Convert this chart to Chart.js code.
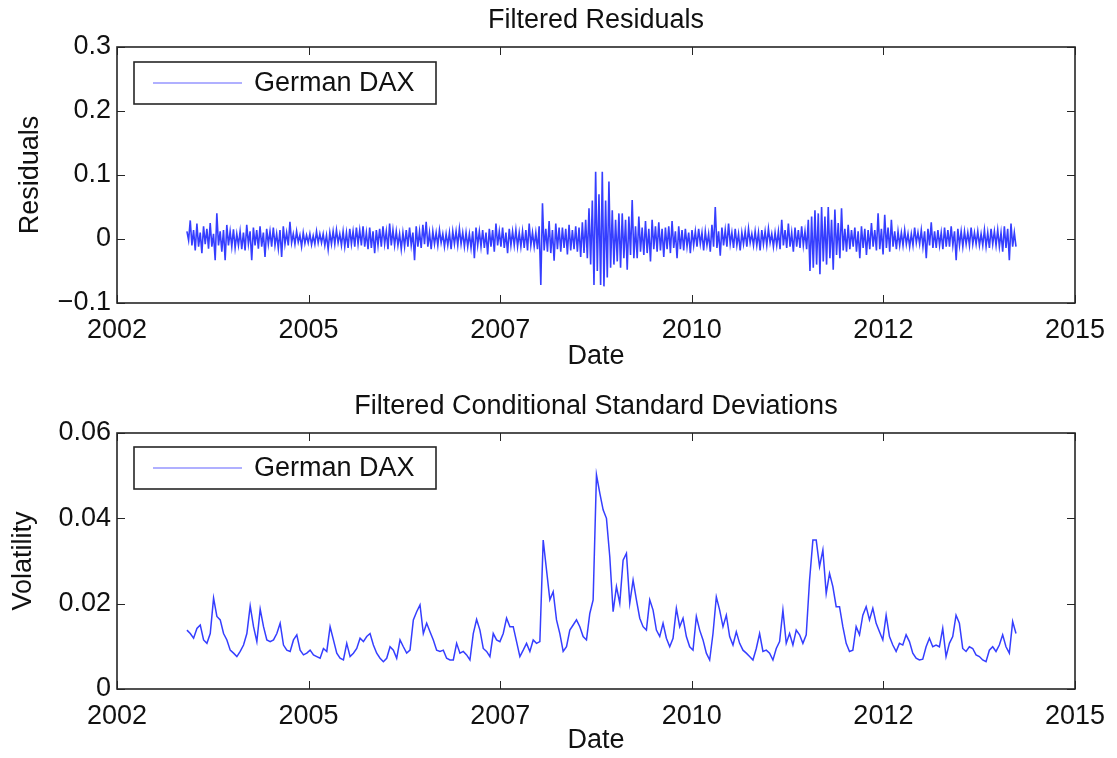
<!DOCTYPE html>
<html>
<head>
<meta charset="utf-8">
<title>German DAX - filtered residuals and volatility</title>
<script src="https://cdn.jsdelivr.net/npm/chart.js@4.4.1/dist/chart.umd.min.js"></script>
<style>
  html, body { margin: 0; padding: 0; background: #fff; }
  canvas { position: absolute; left: 0; }
  #residChart { top: 0; }
  #volChart { top: 379px; }
</style>
</head>
<body>
<canvas id="residChart" width="1117" height="379"></canvas>
<canvas id="volChart" width="1117" height="379"></canvas>
<script>
// ---- data ----
var seriesLabel = 'German DAX';
var xTickLabels = ['2002', '2005', '2007', '2010', '2012', '2015'];
// first / last trading day, in date-axis tick units (0 = first tick, 5 = last)
var firstObs = 0.365;
var lastObs = 4.692;

var residTicks = [-0.1, 0, 0.1, 0.2, 0.3];
var volTicks = [0, 0.02, 0.04, 0.06];

// up/down swings of the residual band, left to right
var residuals = [
    // 2003 - 2005
    0.012, -0.002, 0.029, -0.010, 0.014, -0.018, 0.024, -0.012, 0.010, -0.022,
    0.020, -0.008, 0.016, -0.015, 0.025, -0.012, 0.008, -0.033, 0.040, -0.010,
    0.012, -0.020, 0.014, -0.033, 0.022, -0.010, 0.012, -0.012, 0.015, -0.014,
    0.008, -0.010, 0.012, -0.016, 0.010, -0.018, 0.022, -0.008, 0.012, -0.033,
    0.018, -0.010, 0.014, -0.015, 0.020, -0.012, 0.010, -0.028, 0.016, -0.008,
    0.012, -0.012, 0.018, -0.010, 0.008, -0.015, 0.014, -0.028, 0.020, -0.008,
    0.010, -0.010, 0.027, -0.006, 0.008, -0.008, 0.012, -0.005, 0.006, -0.012,
    0.010, -0.007, 0.006, -0.006, 0.008, -0.009, 0.005, -0.008, 0.012, -0.006,
    0.008, -0.006, 0.008, -0.010, 0.006, -0.016, 0.010, -0.008, 0.012, -0.008,
    0.014, -0.006, 0.008, -0.010, 0.012, -0.012, 0.010, -0.014, 0.016, -0.008,
    0.012, -0.012, 0.018, -0.008, 0.014, -0.010, 0.020, -0.012, 0.010, -0.016,
    0.018, -0.014, 0.012, -0.022, 0.014, -0.010, 0.016, -0.012, 0.020, -0.008,
    0.012, -0.016, 0.024, -0.010, 0.014, -0.010,
    // 2006 - 2008
    0.012, -0.010, 0.008, -0.016, 0.010, -0.012, 0.014, -0.012, 0.018, -0.010,
    0.010, -0.033, 0.020, -0.012, 0.012, -0.014, 0.022, -0.008, 0.027, -0.012,
    0.010, -0.016, 0.012, -0.008, 0.010, -0.010, 0.014, -0.006, 0.008, -0.012,
    0.008, -0.010, 0.010, -0.016, 0.012, -0.008, 0.012, -0.010, 0.016, -0.008,
    0.010, -0.012, 0.010, -0.012, 0.008, -0.014, 0.012, -0.030, 0.018, -0.010,
    0.012, -0.012, 0.014, -0.014, 0.010, -0.024, 0.016, -0.012, 0.014, -0.020,
    0.024, -0.010, 0.012, -0.012, 0.018, -0.014, 0.010, -0.022, 0.016, -0.010,
    0.012, -0.010, 0.014, -0.012, 0.010, -0.012, 0.012, -0.014, 0.014, -0.018,
    0.024, -0.010, 0.010, -0.012, 0.010, -0.016, 0.020, -0.072, 0.056, -0.018,
    0.016, -0.020, 0.028, -0.022, 0.014, -0.034, 0.024, -0.016, 0.018, -0.020,
    0.018, -0.014, 0.016, -0.024, 0.022, -0.018, 0.014, -0.016, 0.020, -0.020,
    0.018, -0.028, 0.026, -0.022, 0.030, -0.030, 0.048, -0.040, 0.060, -0.072,
    0.105, -0.050, 0.070, -0.072,
    // 2008 - 2011
    0.105, -0.074, 0.060, -0.060, 0.090, -0.045, 0.045, -0.040, 0.030, -0.035,
    0.040, -0.045, 0.040, -0.030, 0.030, -0.048, 0.035, -0.025, 0.061, -0.030,
    0.020, -0.030, 0.035, -0.020, 0.018, -0.025, 0.028, -0.022, 0.016, -0.035,
    0.030, -0.016, 0.020, -0.020, 0.026, -0.018, 0.016, -0.028, 0.018, -0.016,
    0.020, -0.022, 0.028, -0.014, 0.012, -0.030, 0.020, -0.016, 0.014, -0.018,
    0.016, -0.012, 0.010, -0.022, 0.014, -0.010, 0.012, -0.012, 0.016, -0.008,
    0.010, -0.018, 0.012, -0.010, 0.008, -0.020, 0.022, -0.012, 0.050, -0.014,
    0.012, -0.026, 0.018, -0.010, 0.014, -0.012, 0.024, -0.008, 0.010, -0.014,
    0.016, -0.010, 0.008, -0.018, 0.010, -0.008, 0.012, -0.012, 0.016, -0.006,
    0.008, -0.010, 0.012, -0.010, 0.010, -0.018, 0.014, -0.008, 0.012, -0.010,
    0.016, -0.006, 0.008, -0.012, 0.010, -0.010, 0.012, -0.016, 0.030, -0.010,
    0.014, -0.014, 0.024, -0.012, 0.010, -0.020, 0.018, -0.012, 0.014, -0.014,
    0.020, -0.010, 0.012, -0.016, 0.030, -0.050, 0.035, -0.045,
    // 2011 - 2014
    0.045, -0.040, 0.040, -0.055, 0.050, -0.035, 0.035, -0.040, 0.050, -0.030,
    0.030, -0.048, 0.046, -0.025, 0.025, -0.030, 0.048, -0.018, 0.016, -0.020,
    0.022, -0.016, 0.014, -0.012, 0.018, -0.020, 0.012, -0.030, 0.020, -0.014,
    0.016, -0.025, 0.014, -0.016, 0.025, -0.012, 0.014, -0.018, 0.040, -0.016,
    0.016, -0.024, 0.038, -0.014, 0.018, -0.020, 0.030, -0.012, 0.012, -0.016,
    0.012, -0.010, 0.010, -0.010, 0.014, -0.008, 0.008, -0.012, 0.008, -0.010,
    0.018, -0.006, 0.010, -0.008, 0.014, -0.012, 0.012, -0.030, 0.016, -0.010,
    0.026, -0.014, 0.012, -0.014, 0.014, -0.010, 0.010, -0.016, 0.018, -0.012,
    0.014, -0.012, 0.020, -0.010, 0.012, -0.033, 0.016, -0.010, 0.012, -0.012,
    0.012, -0.008, 0.010, -0.010, 0.018, -0.008, 0.010, -0.008, 0.012, -0.010,
    0.008, -0.010, 0.014, -0.012, 0.010, -0.014, 0.016, -0.008, 0.012, -0.010,
    0.014, -0.012, 0.010, -0.020, 0.020, -0.014, 0.016, -0.033, 0.024, -0.012,
    0.010, -0.012
];

var volatility = [
    0.0138, 0.0130, 0.0119, 0.0142, 0.0150, 0.0115, 0.0107, 0.0130, 0.0213, 0.0170,
    0.0162, 0.0130, 0.0115, 0.0091, 0.0084, 0.0076, 0.0088, 0.0103, 0.0130, 0.0195,
    0.0146, 0.0111, 0.0187, 0.0146, 0.0115, 0.0111, 0.0115, 0.0130, 0.0154, 0.0103,
    0.0091, 0.0088, 0.0115, 0.0127, 0.0091, 0.0080, 0.0084, 0.0091, 0.0080, 0.0076,
    0.0072, 0.0095, 0.0088, 0.0146, 0.0115, 0.0084, 0.0072, 0.0068, 0.0107, 0.0076,
    0.0084, 0.0095, 0.0119, 0.0111, 0.0123, 0.0130, 0.0103, 0.0084, 0.0072, 0.0064,
    0.0072, 0.0099, 0.0091,
    0.0072, 0.0115, 0.0099, 0.0084, 0.0091, 0.0162, 0.0181, 0.0197, 0.0130, 0.0154,
    0.0134, 0.0115, 0.0091, 0.0088, 0.0091, 0.0072, 0.0068, 0.0068, 0.0107, 0.0084,
    0.0088, 0.0080, 0.0068, 0.0130, 0.0163, 0.0138, 0.0095, 0.0088, 0.0076, 0.0130,
    0.0115, 0.0111, 0.0130, 0.0166, 0.0146, 0.0146, 0.0111, 0.0076, 0.0091, 0.0107,
    0.0088, 0.0115, 0.0107, 0.0111, 0.0349, 0.0279, 0.0209, 0.0228, 0.0162, 0.0130,
    0.0088, 0.0099, 0.0138, 0.0150, 0.0162, 0.0146, 0.0123, 0.0115, 0.0177, 0.0209,
    0.0502, 0.0459,
    0.0420, 0.0400, 0.0310, 0.0181, 0.0240, 0.0201, 0.0302, 0.0318, 0.0201, 0.0255,
    0.0209, 0.0166, 0.0146, 0.0138, 0.0209, 0.0185, 0.0138, 0.0123, 0.0154, 0.0119,
    0.0099, 0.0119, 0.0189, 0.0146, 0.0166, 0.0123, 0.0099, 0.0091, 0.0170, 0.0138,
    0.0115, 0.0084, 0.0068, 0.0130, 0.0216, 0.0185, 0.0146, 0.0173, 0.0123, 0.0103,
    0.0134, 0.0107, 0.0091, 0.0084, 0.0076, 0.0068, 0.0095, 0.0130, 0.0088, 0.0091,
    0.0084, 0.0068, 0.0095, 0.0111, 0.0185, 0.0107, 0.0130, 0.0103, 0.0138, 0.0127,
    0.0107, 0.0127, 0.0255, 0.0349,
    0.0349, 0.0287, 0.0326, 0.0224, 0.0271, 0.0240, 0.0193, 0.0193, 0.0146, 0.0107,
    0.0088, 0.0091, 0.0146, 0.0127, 0.0173, 0.0193, 0.0162, 0.0189, 0.0154, 0.0134,
    0.0115, 0.0173, 0.0123, 0.0103, 0.0088, 0.0107, 0.0103, 0.0127, 0.0111, 0.0084,
    0.0072, 0.0068, 0.0070, 0.0099, 0.0119, 0.0099, 0.0103, 0.0099, 0.0142, 0.0076,
    0.0107, 0.0123, 0.0173, 0.0154, 0.0095, 0.0088, 0.0099, 0.0095, 0.0080, 0.0076,
    0.0068, 0.0064, 0.0091, 0.0099, 0.0088, 0.0103, 0.0127, 0.0099, 0.0084, 0.0158,
    0.0130
];

// ---- drawing ----
var FONT = 'Helvetica, Arial, "Liberation Sans", sans-serif';
var FONT_SIZE = 27;
var LINE_COLOR = 'rgba(25, 35, 255, 0.88)';

function toPoints(values) {
    var step = (lastObs - firstObs) / (values.length - 1);
    return values.map(function (v, i) { return { x: firstObs + i * step, y: v }; });
}

function fmtTick(v, decimals) {
    if (Math.abs(v) < 1e-9) return '0';
    return (v < 0 ? '\u2212' : '') + Math.abs(v).toFixed(decimals);
}

// MATLAB-style frame: box, inward ticks on all sides, boxed legend, title
var matlabFrame = {
    id: 'matlabFrame',
    afterDraw: function (chart, args, opts) {
        var ctx = chart.ctx;
        var a = chart.chartArea;
        var xs = chart.scales.x, ys = chart.scales.y;
        var tl = 8;
        ctx.save();

        ctx.strokeStyle = '#262626';
        ctx.lineWidth = 1;
        ctx.beginPath();
        xs.ticks.forEach(function (t) {
            var px = Math.round(xs.getPixelForValue(t.value)) + 0.5;
            ctx.moveTo(px, a.bottom); ctx.lineTo(px, a.bottom - tl);
            ctx.moveTo(px, a.top); ctx.lineTo(px, a.top + tl);
        });
        ys.ticks.forEach(function (t) {
            var py = Math.round(ys.getPixelForValue(t.value)) + 0.5;
            ctx.moveTo(a.left, py); ctx.lineTo(a.left + tl, py);
            ctx.moveTo(a.right, py); ctx.lineTo(a.right - tl, py);
        });
        ctx.stroke();

        ctx.lineWidth = 1.6;
        ctx.strokeRect(a.left, a.top, a.right - a.left, a.bottom - a.top);

        // legend
        var bx = a.left + 17, by = a.top + opts.legendTop, bw = 302, bh = 42;
        ctx.fillStyle = '#fff';
        ctx.fillRect(bx, by, bw, bh);
        ctx.lineWidth = 1.6;
        ctx.strokeRect(bx, by, bw, bh);
        ctx.strokeStyle = 'rgba(70, 70, 255, 0.85)';
        ctx.lineWidth = 1.2;
        ctx.beginPath();
        ctx.moveTo(bx + 19, by + 21);
        ctx.lineTo(bx + 108, by + 21);
        ctx.stroke();
        ctx.fillStyle = '#111';
        ctx.font = FONT_SIZE + 'px ' + FONT;
        ctx.textAlign = 'left';
        ctx.textBaseline = 'middle';
        ctx.fillText(chart.data.datasets[0].label, bx + 120, by + 22);

        // title
        ctx.textAlign = 'center';
        ctx.fillText(opts.title, (a.left + a.right) / 2, opts.titleY);

        ctx.restore();
    }
};

function makeChart(id, values, yTicks, decimals, cfg) {
    var ctx = document.getElementById(id).getContext('2d');
    return new Chart(ctx, {
        type: 'line',
        data: {
            datasets: [{
                label: seriesLabel,
                data: toPoints(values),
                borderColor: LINE_COLOR,
                backgroundColor: 'transparent',
                borderWidth: cfg.lineWidth,
                pointRadius: 0,
                tension: 0
            }]
        },
        options: {
            responsive: false,
            devicePixelRatio: 1,
            animation: false,
            layout: { padding: { left: 0, right: 42, top: cfg.top, bottom: 0 } },
            plugins: {
                legend: { display: false },
                title: { display: false },
                tooltip: { enabled: false },
                matlabFrame: { title: cfg.title, titleY: cfg.titleY, legendTop: cfg.legendTop }
            },
            scales: {
                x: {
                    type: 'linear',
                    min: 0,
                    max: xTickLabels.length - 1,
                    afterBuildTicks: function (scale) {
                        scale.ticks = xTickLabels.map(function (_, i) { return { value: i }; });
                    },
                    afterFit: function (scale) { scale.height = cfg.xHeight; },
                    grid: { display: false, drawTicks: false },
                    border: { display: false },
                    ticks: {
                        color: '#111',
                        font: { family: FONT, size: FONT_SIZE },
                        padding: cfg.xPad,
                        maxRotation: 0,
                        autoSkip: false,
                        callback: function (v) { return xTickLabels[Math.round(v)]; }
                    },
                    title: {
                        display: true,
                        text: 'Date',
                        color: '#111',
                        font: { family: FONT, size: FONT_SIZE },
                        padding: { top: 0, bottom: cfg.datePad }
                    }
                },
                y: {
                    type: 'linear',
                    min: yTicks[0],
                    max: yTicks[yTicks.length - 1],
                    afterBuildTicks: function (scale) {
                        scale.ticks = yTicks.map(function (v) { return { value: v }; });
                    },
                    afterFit: function (scale) { scale.width = 117; },
                    grid: { display: false, drawTicks: false },
                    border: { display: false },
                    ticks: {
                        color: '#111',
                        font: { family: FONT, size: FONT_SIZE },
                        padding: 6,
                        callback: function (v) { return fmtTick(v, decimals); }
                    },
                    title: {
                        display: true,
                        text: cfg.yTitle,
                        color: '#111',
                        font: { family: FONT, size: FONT_SIZE },
                        padding: { top: cfg.yTitlePad, bottom: 0 }
                    }
                }
            }
        },
        plugins: [matlabFrame]
    });
}

makeChart('residChart', residuals, residTicks, 1, {
    title: 'Filtered Residuals', titleY: 21, top: 47, xHeight: 76, lineWidth: 1.6,
    xPad: 11, datePad: 6, legendTop: 15, yTitle: 'Residuals', yTitlePad: 14
});

makeChart('volChart', volatility, volTicks, 2, {
    title: 'Filtered Conditional Standard Deviations', titleY: 28, top: 54, xHeight: 69, lineWidth: 1.5,
    xPad: 11, datePad: 1, legendTop: 14, yTitle: 'Volatility', yTitlePad: 7
});
</script>
</body>
</html>
